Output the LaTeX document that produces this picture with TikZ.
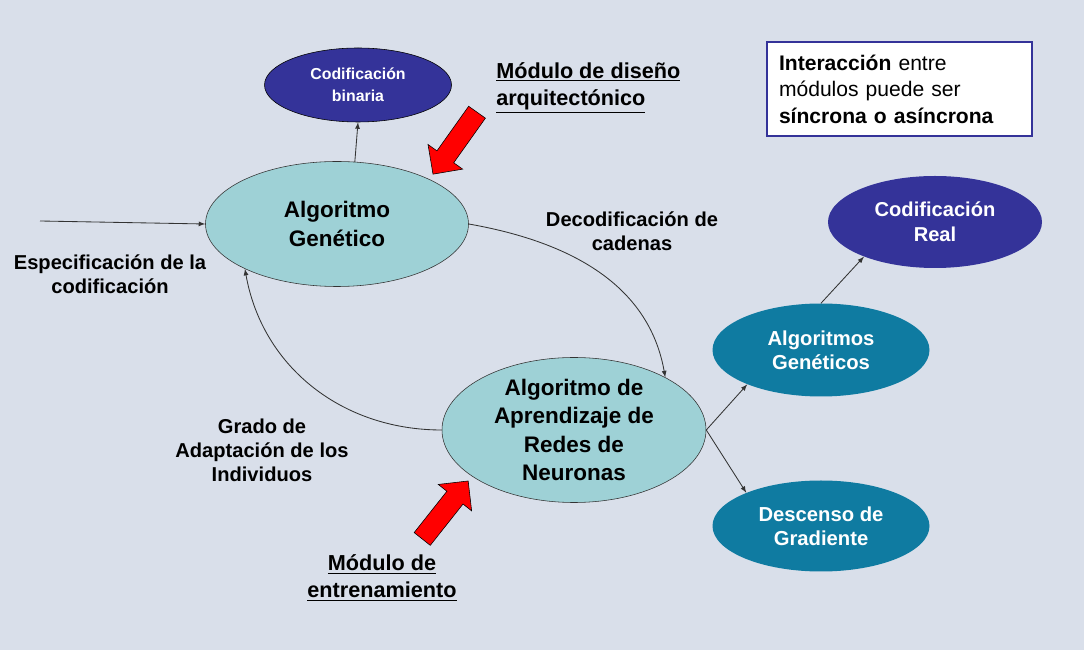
\documentclass[tikz,border=0pt]{standalone}
\usepackage{fontspec}
\setmainfont{Liberation Sans}
\usetikzlibrary{shapes.geometric,shapes.arrows}
\definecolor{fondo}{HTML}{D9DFEA}
\definecolor{celeste}{HTML}{9ED1D6}
\definecolor{azul}{HTML}{343399}
\definecolor{turquesa}{HTML}{0F7BA1}
\definecolor{linea}{HTML}{333333}
\tikzset{
  modulo/.style={ellipse, draw=linea, fill=celeste, inner sep=0pt, align=center,
    font=\fontsize{16}{20}\selectfont\bfseries},
  codif/.style={ellipse, fill=azul, text=white, inner sep=0pt, align=center},
  metodo/.style={ellipse, fill=turquesa, text=white, inner sep=0pt, align=center,
    minimum width=5.425cm, font=\fontsize{14.4}{17}\selectfont\bfseries},
  etiqueta/.style={align=center, inner sep=0pt, font=\fontsize{14.3}{17}\selectfont\bfseries},
  titulo/.style={inner sep=0pt, font=\fontsize{15.4}{19.2}\selectfont\bfseries},
  flecha/.style={single arrow, draw=black, fill=red, inner xsep=0pt, inner ysep=0.25cm,
    minimum width=1.05cm, single arrow head extend=0.275cm},
  conector/.style={-latex, draw=linea, line width=0.6pt}
}
\begin{document}
\begin{tikzpicture}
	\fill[fondo] (0,0) rectangle (27.1,16.25);
	\useasboundingbox (0,0) rectangle (27.1,16.25);
	
	% modulos principales
	\node[modulo, minimum width=6.575cm, minimum height=3.125cm] (ag) at (8.425,10.65) {Algoritmo\\Genético};
	\node[modulo, minimum width=6.6cm, minimum height=3.625cm] (red) at (14.35,5.5) {Algoritmo de\\Aprendizaje de\\Redes de\\Neuronas};
	
	% codificaciones y metodos
	\node[codif, draw=black, minimum width=4.675cm, minimum height=1.85cm, font=\fontsize{11.3}{15.6}\selectfont\bfseries] (binaria) at (8.95,14.125) {Codificación\\binaria};
	\node[codif, minimum width=5.35cm, minimum height=2.3cm, font=\fontsize{14.3}{17.8}\selectfont\bfseries] (real) at (23.375,10.7) {Codificación\\Real};
	\node[metodo, minimum height=2.325cm] (ags) at (20.525,7.5) {Algoritmos\\Genéticos};
	\node[metodo, minimum height=2.275cm] (gradiente) at (20.525,3.1) {Descenso de\\Gradiente};
	
	% recuadro
	\node[draw=azul, line width=1.8pt, fill=white, minimum width=6.625cm, minimum height=2.35cm,
	  text width=6.025cm, inner xsep=0.3cm, align=left, font=\fontsize{15}{18.9}\selectfont] (nota) at (22.4875,14.025)
	  {\textbf{Interacción} entre\\módulos puede ser\\\textbf{síncrona o asíncrona}};
	
	% textos
	\node[etiqueta] (espec) at (2.75,9.4) {Especificación de la\\codificación};
	\node[etiqueta] (decod) at (15.8,10.475) {Decodificación de\\cadenas};
	\node[etiqueta] (grado) at (6.55,5.0) {Grado de\\Adaptación de los\\Individuos};
	\node[titulo, anchor=west, align=left] (diseno) at (12.4,14.06) {\underline{Módulo de diseño}\\\underline{arquitectónico}};
	\node[titulo, align=center] (entren) at (9.55,1.8) {\underline{Módulo de}\\\underline{entrenamiento}};
	
	% flechas rojas
	\node[flecha, minimum height=1.9cm, rotate=234.6] (flecha1) at (11.45,12.775) {};
	\node[flecha, minimum height=1.85cm, rotate=51.6] (flecha2) at (11.05,3.4) {};
	
	% conectores
	\coordinate (entrada) at (1.0,10.725);
	\draw[conector] (entrada) -- (ag.west);
	\draw[conector] (ag.74) -- (binaria.south);
	\draw[conector] (ag.east) to[out=-10,in=100] (red.30);
	\draw[conector] (red.west) to[out=180,in=-80] (ag.206);
	\draw[conector] (red.east) -- (ags.205);
	\draw[conector] (red.east) -- (gradiente.156);
	\draw[conector] (ags.north) -- (real.206);
\end{tikzpicture}
\end{document}
